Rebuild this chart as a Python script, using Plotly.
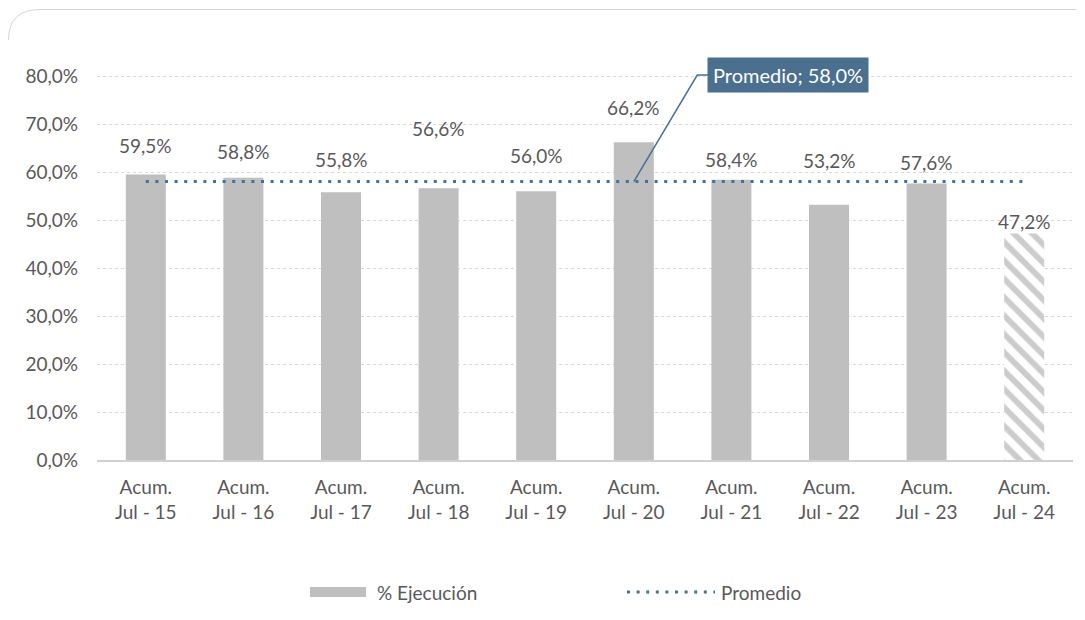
import plotly.graph_objects as go

# ---- data ----
categories = ["Acum.<br>Jul - 15", "Acum.<br>Jul - 16", "Acum.<br>Jul - 17", "Acum.<br>Jul - 18",
              "Acum.<br>Jul - 19", "Acum.<br>Jul - 20", "Acum.<br>Jul - 21", "Acum.<br>Jul - 22",
              "Acum.<br>Jul - 23", "Acum.<br>Jul - 24"]
ejecucion = [59.5, 58.8, 55.8, 56.6, 56.0, 66.2, 58.4, 53.2, 57.6, 47.2]
promedio_value = 58.0
promedio = [promedio_value] * len(categories)
y_ticks = [0, 10, 20, 30, 40, 50, 60, 70, 80]
y_tick_labels = ["0,0%", "10,0%", "20,0%", "30,0%", "40,0%", "50,0%", "60,0%", "70,0%", "80,0%"]
series_names = ["% Ejecución", "Promedio"]

# ---- style ----
FONT = "Lato"
TXT = "#595959"
BAR = "#bfbfbf"
HATCH = "#999999"
LINE = "#46709a"
BOX = "#4a6f8f"
label_yshift = [29, 26, 33, 60, 36, 35, 20, 44, 21, 12]  # px above bar top (manual label placement)

def fmt(v):
    return f"{v:.1f}".replace(".", ",") + "%"

n = len(categories)
fig = go.Figure()

fig.add_trace(go.Bar(
    x=categories[:-1], y=ejecucion[:-1], name=series_names[0],
    marker=dict(color=BAR, line=dict(width=0)), width=0.41, showlegend=False,
    hoverinfo="skip",
))
fig.add_trace(go.Bar(
    x=categories[-1:], y=ejecucion[-1:], name=series_names[0],
    marker=dict(color="white", line=dict(width=0),
                pattern=dict(shape="\\", fgcolor=HATCH, bgcolor="white", size=13, solidity=0.45)),
    width=0.41, showlegend=False, hoverinfo="skip",
))
fig.add_trace(go.Scatter(
    x=categories, y=promedio, mode="lines", name=series_names[1],
    line=dict(color=LINE, width=3, dash="3px,6.6px"), showlegend=False, hoverinfo="skip",
))

annotations = []
for i, (c, v) in enumerate(zip(categories, ejecucion)):
    annotations.append(dict(
        x=c, y=v, xref="x", yref="y", text=fmt(v), showarrow=False,
        yanchor="middle", yshift=label_yshift[i],
        font=dict(family=FONT, size=19, color=TXT),
    ))

annotations.append(dict(
    x=5.755, y=80.2, xref="x", yref="y", xanchor="left", yanchor="middle",
    text="Promedio; " + fmt(promedio_value), showarrow=False,
    font=dict(family=FONT, size=20, color="white"),
    bgcolor=BOX, borderpad=5,
))

shapes = [
    dict(type="path", xref="x", yref="y",
         path=f"M 5,{promedio_value} L 5.65,80.2 L 5.76,80.2",
         line=dict(color=LINE, width=1.5)),
]

# page offset of the figure (body margin)
OFF = 8
FW, FH = 1069, 604
L, T, W, H = 97 - OFF, 52 - OFF, 976, 408
def px(xp):
    return (xp - OFF - L) / W
def py(yp):
    return (T + H - (yp - OFF)) / H

shapes.append(dict(type="rect", xref="paper", yref="paper",
                   x0=px(310), x1=px(366), y0=py(597), y1=py(587),
                   fillcolor=BAR, line=dict(width=0)))
shapes.append(dict(type="line", xref="paper", yref="paper",
                   x0=px(627), x1=px(715), y0=py(592), y1=py(592),
                   line=dict(color=LINE, width=3, dash="3px,6.6px")))
annotations.append(dict(x=px(375), y=py(592), xref="paper", yref="paper", xanchor="left",
                        yanchor="middle", text=series_names[0], showarrow=False,
                        font=dict(family=FONT, size=19, color=TXT)))
annotations.append(dict(x=px(719), y=py(592), xref="paper", yref="paper", xanchor="left",
                        yanchor="middle", text=series_names[1], showarrow=False,
                        font=dict(family=FONT, size=19, color=TXT)))

shapes.append(dict(type="path", xref="paper", yref="paper",
                   path=f"M {px(8.5)},{py(40)} Q {px(8.5)},{py(9.5)} {px(40)},{py(9.5)} L {px(1076)},{py(9.5)}",
                   line=dict(color="#d4d4d4", width=1)))

fig.update_layout(
    width=FW, height=FH,
    margin=dict(l=L, r=FW - L - W, t=T, b=FH - T - H),
    paper_bgcolor="white", plot_bgcolor="white",
    showlegend=False,
    font=dict(family=FONT, color=TXT, size=17),
    annotations=annotations, shapes=shapes,
    xaxis=dict(type="category", categoryorder="array", categoryarray=categories,
               showgrid=False, showline=True, linecolor="#d0d0d0", linewidth=2,
               ticks="", tickfont=dict(family=FONT, size=19, color=TXT),
               ticklabelstandoff=9, range=[-0.5, n - 0.5]),
    yaxis=dict(range=[0, 85], tickvals=y_ticks, ticktext=y_tick_labels,
               showgrid=True, gridcolor="#d9d9d9", griddash="dot", gridwidth=1,
               zeroline=False, showline=False, ticks="",
               tickfont=dict(family=FONT, size=19, color=TXT), ticklabelstandoff=18),
)

fig.write_html("out.html")
